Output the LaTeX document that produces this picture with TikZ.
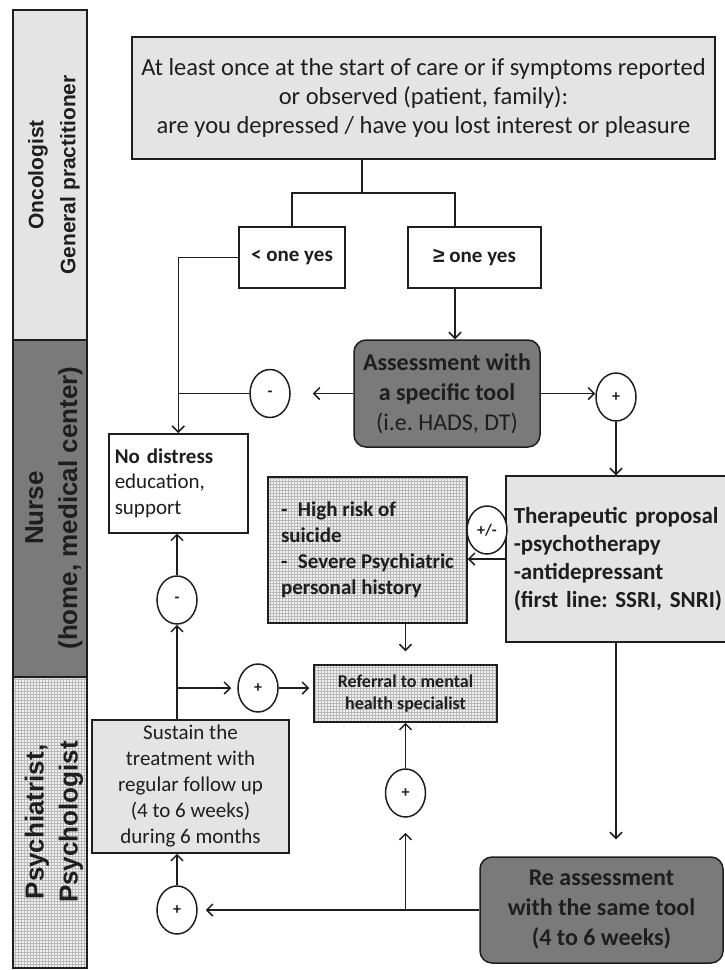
\documentclass[tikz,border=0pt]{standalone}
\usepackage{fontspec}
\setmainfont{Carlito}
\newfontfamily\lanefont{Liberation Sans}
\usetikzlibrary{arrows.meta,shapes.geometric,patterns}

\definecolor{darkfill}{HTML}{7A7A7A}
\definecolor{lightfill}{HTML}{E4E4E4}
\definecolor{inkcol}{HTML}{1E1E1E}

\begin{document}
\frenchspacing
\begin{tikzpicture}[x=1pt,y=-1pt,line width=1.5pt,draw=inkcol,text=inkcol,
  lightbox/.style={draw,fill=lightfill,inner sep=0pt,align=center},
  darkbox/.style={draw,fill=darkfill,rounded corners=12pt,inner sep=0pt,align=center},
  gridbox/.style={draw,preaction={fill=gray!10},pattern=grid,pattern color=gray!55,inner sep=0pt},
  ansbox/.style={draw,line width=2.4pt,fill=white,inner sep=0pt,align=center,font=\fontsize{21}{25}\selectfont\bfseries},
  sign/.style={draw,ellipse,fill=white,minimum width=40,minimum height=48,inner sep=0pt,font=\fontsize{16}{16}\selectfont\bfseries},
  lanetext/.style={rotate=90,align=center,font=\lanefont\bfseries},
  arr/.style={arrows={-Straight Barb[length=6pt,width=12pt]}}]

\useasboundingbox (0,0) rectangle (725,970);

\draw[fill=lightfill] (13,10) rectangle (87,340);
\node[lanetext,font=\lanefont\bfseries\fontsize{21}{32}\selectfont] (onco) at (54,175) {Oncologist\\ General practitioner};

\draw[fill=darkfill] (13,340) rectangle (87,677);
\node[lanetext,font=\lanefont\bfseries\fontsize{26}{34}\selectfont] (nurse) at (54,508) {Nurse\\ (home, medical center)};

\draw[gridbox] (13,677) rectangle (87,968);
\node[lanetext,font=\lanefont\bfseries\fontsize{26}{34}\selectfont] (psy) at (54,822) {Psychiatrist,\\ Psychologist};

\node[lightbox,minimum width=583,minimum height=122,font=\fontsize{24.5}{29}\selectfont] (screen) at (423.5,98)
  {At least once at the start of care or if symptoms reported\\ or observed (patient, family):\\ are you depressed / have you lost interest or pleasure};

\node[ansbox,minimum width=106,minimum height=61] (lessyes) at (292,257.5) {< one yes};
\node[ansbox,minimum width=133,minimum height=61] (moreyes) at (474.5,257.5) {{\lanefont ≥} one yes};

\node[darkbox,minimum width=186,minimum height=107,font=\fontsize{24}{30}\selectfont] (assess) at (447,393.5)
  {\textbf{Assessment with}\\ \textbf{a specific tool}\\ (i.e. HADS, DT)};
\node[sign] (minus1) at (270,393.5) {-};
\node[sign] (plus1) at (616,397) {+};

\node[draw,fill=white,anchor=north west,text width=127,inner sep=6pt,minimum height=99,align=left,font=\fontsize{21}{25.5}\selectfont] (nodist) at (108,433)
  {\textbf{No distress}\\ education,\\ support};

\node[gridbox,minimum width=199,minimum height=146,align=left,font=\fontsize{21}{26}\selectfont\bfseries] (highrisk) at (367.5,550)
  {-\enspace High risk of\\ suicide\\ -\enspace Severe Psychiatric\\ personal history};

\node[lightbox,anchor=west,text width=250,inner sep=8pt,minimum height=166,align=left,font=\fontsize{23}{28}\selectfont\bfseries] (ther) at (505,559)
  {Therapeutic proposal\\ -psychotherapy\\ -antidepressant\\ (first line: SSRI, SNRI)};
\node[sign] (pm) at (487,530) {+/-};

\node[sign] (minus2) at (177,600) {-};
\node[gridbox,minimum width=183,minimum height=57,align=center,font=\fontsize{18}{21.5}\selectfont\bfseries] (referral) at (405.5,693.5)
  {Referral to mental\\ health specialist};
\node[sign] (plus2) at (258,688) {+};

\node[lightbox,minimum width=197,minimum height=133,font=\fontsize{21}{26}\selectfont] (sustain) at (190.5,786.5)
  {Sustain the\\ treatment with\\ regular follow up\\ (4 to 6 weeks)\\ during 6 months};
\node[sign] (plus4) at (405.5,793) {+};
\node[sign] (plus3) at (177,910) {+};

\node[darkbox,minimum width=243,minimum height=106,font=\fontsize{24}{30}\selectfont\bfseries] (reass) at (601.5,910)
  {Re assessment\\ with the same tool\\ (4 to 6 weeks)};

\coordinate (split) at (362,193);
\coordinate (splitR) at (455,193);
\coordinate (branch) at (177,688);

\draw (screen.south -| split) -- (split) -| (lessyes.north);
\draw (split) -- (splitR) -- (splitR |- moreyes.north);
\draw [arr] (lessyes.west) -| (nodist.north);
\draw [arr] (moreyes.south -| splitR) -- (assess.north -| splitR);
\draw (minus1.west) -- (minus1.west -| nodist.north);
\draw [arr,shorten >=22pt] (assess.west) -- (minus1.east);
\draw [arr] (assess.east) -- (assess.east -| plus1.west);
\draw [arr] (plus1.south) -- (plus1 |- ther.north);
\draw [arr] (ther.west) -- (ther.west -| highrisk.east);
\draw [arr,shorten >=13pt] (referral.north |- highrisk.south) -- (referral.north);
\draw [arr] (minus2 |- sustain.north) -- (minus2.south);
\draw [arr] (minus2.north) -- (minus2 |- nodist.south);
\draw [arr,shorten >=6pt] (branch) -- (plus2.west);
\draw [arr,shorten >=4pt] (plus2.east) -- (plus2 -| referral.west);
\draw [arr] (plus3.north) -- (plus3 |- sustain.south);
\draw [arr,shorten >=8pt] (reass.west) -- (reass.west -| plus3.east);
\draw [arr,shorten >=15pt] (plus4 |- reass.west) -- (plus4.south);
\draw [arr] (plus4.north) -- (referral.south);
\draw [arr,shorten >=17pt] (plus1 |- ther.south) -- (plus1 |- reass.north);

\end{tikzpicture}
\end{document}
